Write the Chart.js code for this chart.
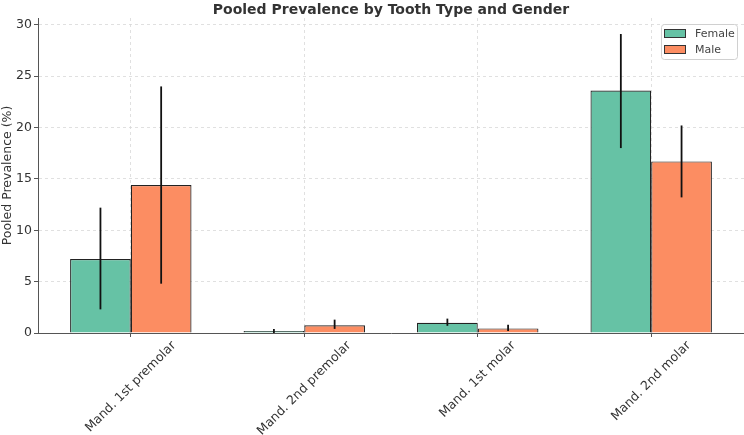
<!DOCTYPE html>
<html>
<head>
<meta charset="utf-8">
<script src="https://cdn.jsdelivr.net/npm/chart.js@4.4.0/dist/chart.umd.min.js"></script>
<style>
  html, body { margin: 0; padding: 0; background: #fff; }
  canvas { display: block; }
</style>
</head>
<body>
<canvas id="prevChart" width="744" height="435"></canvas>
<script>
// tooth types and pooled prevalence (%)
var teeth = ["Mand. 1st premolar", "Mand. 2nd premolar", "Mand. 1st molar", "Mand. 2nd molar"];
var female = [7.2, 0.2, 1.0, 23.6];
var femaleLow = [2.3, 0.0, 0.7, 18.0];
var femaleHigh = [12.2, 0.4, 1.4, 29.1];
var male = [14.4, 0.75, 0.45, 16.7];
var maleLow = [4.8, 0.4, 0.2, 13.2];
var maleHigh = [24.0, 1.3, 0.8, 20.2];
var yTicks = [0, 5, 10, 15, 20, 25, 30];

var FONT = "'DejaVu Sans', sans-serif";

function toPoints(arr){
	return arr.map(function(v, i){ return {x: i, y: v}; });
}

// vertical error bars, no caps
var errorBars = {
	id: 'errorBars',
	afterDatasetsDraw: function(chart){
		var ctx = chart.ctx;
		var y = chart.scales.y;
		chart.data.datasets.forEach(function(ds, d){
			var meta = chart.getDatasetMeta(d);
			meta.data.forEach(function(bar, i){
				ctx.save();
				ctx.strokeStyle = '#111';
				ctx.lineWidth = 1.8;
				ctx.beginPath();
				ctx.moveTo(bar.x, y.getPixelForValue(ds.low[i]));
				ctx.lineTo(bar.x, y.getPixelForValue(ds.high[i]));
				ctx.stroke();
				ctx.restore();
			});
		});
	}
};

// title, centred rotated category labels and boxed legend, matplotlib style
var decorations = {
	id: 'decorations',
	afterDraw: function(chart){
		var ctx = chart.ctx;
		var area = chart.chartArea;
		var xs = chart.scales.x;
		ctx.save();
		ctx.fillStyle = '#333';
		ctx.font = 'bold 14px ' + FONT;
		ctx.textAlign = 'center';
		ctx.textBaseline = 'middle';
		ctx.fillText('Pooled Prevalence by Tooth Type and Gender', (area.left + area.right) / 2, 10);

		// x labels: rotated 45 deg, box centred on the tick
		ctx.font = '12.5px ' + FONT;
		xs.ticks.forEach(function(t, i){
			var label = teeth[t.value];
			var w = ctx.measureText(label).width;
			var h = 13;
			var half = (w + h) * Math.SQRT1_2 / 2;
			ctx.save();
			ctx.translate(xs.getPixelForTick(i), area.bottom + 6 + half);
			ctx.rotate(-Math.PI / 4);
			ctx.fillText(label, 0, 0);
			ctx.restore();
		});

		var lx = 661, ly = 24, lw = 76, lh = 35;
		ctx.beginPath();
		ctx.roundRect(lx + 0.5, ly + 0.5, lw, lh, 3);
		ctx.fillStyle = 'rgba(255,255,255,0.8)';
		ctx.fill();
		ctx.strokeStyle = '#d0d0d0';
		ctx.lineWidth = 1;
		ctx.stroke();

		ctx.font = '11px ' + FONT;
		ctx.textAlign = 'left';
		chart.data.datasets.forEach(function(ds, d){
			var ry = 29.5 + d * 16;
			ctx.fillStyle = ds.backgroundColor;
			ctx.fillRect(664.5, ry, 21, 8);
			ctx.strokeStyle = '#333';
			ctx.strokeRect(664.5, ry, 21, 8);
			ctx.fillStyle = '#444';
			ctx.fillText(ds.label, 695, ry + 4.5);
		});
		ctx.restore();
	}
};

var ctx = document.getElementById('prevChart');

var prevChart = new Chart(ctx, {
	type: 'bar',
	data: {
		datasets: [
			{
				label: 'Female',
				data: toPoints(female),
				low: femaleLow,
				high: femaleHigh,
				backgroundColor: '#66c2a5',
				borderColor: '#222',
				borderWidth: 1.2
			},
			{
				label: 'Male',
				data: toPoints(male),
				low: maleLow,
				high: maleHigh,
				backgroundColor: '#fc8d62',
				borderColor: '#222',
				borderWidth: 1.2
			}
		]
	},
	options: {
		responsive: false,
		animation: false,
		devicePixelRatio: 1,
		categoryPercentage: 0.7,
		barPercentage: 1.0,
		layout: { padding: { top: 18, right: 0, left: 0, bottom: 0 } },
		plugins: {
			legend: { display: false },
			tooltip: { enabled: false },
			title: { display: false }
		},
		scales: {
			x: {
				type: 'linear',
				min: -0.535,
				max: 3.535,
				offset: false,
				afterBuildTicks: function(scale){
					scale.ticks = teeth.map(function(t, i){ return {value: i}; });
				},
				afterFit: function(scale){ scale.height = 102; },
				ticks: {
					display: false,
					autoSkip: false
				},
				grid: {
					offset: false,
					color: '#d9d9d9',
					lineWidth: 0.8,
					tickColor: '#555',
					tickLength: 4,
					tickWidth: 1
				},
				border: { display: true, color: '#555', width: 1, dash: [3, 3] }
			},
			y: {
				min: 0,
				max: 30.66,
				afterBuildTicks: function(scale){
					scale.ticks = yTicks.map(function(v){ return {value: v}; });
				},
				afterFit: function(scale){ scale.width = 38; },
				title: {
					display: true,
					text: 'Pooled Prevalence (%)',
					color: '#333',
					font: { family: FONT, size: 12.5 },
					padding: { top: 0, bottom: 0 }
				},
				ticks: {
					padding: 2,
					color: '#333',
					font: { family: FONT, size: 12.5 }
				},
				grid: {
					color: '#d9d9d9',
					lineWidth: 0.8,
					tickColor: '#555',
					tickLength: 4,
					tickWidth: 1
				},
				border: { display: true, color: '#555', width: 1, dash: [3, 3] }
			}
		}
	},
	plugins: [errorBars, decorations]
});
</script>
</body>
</html>
